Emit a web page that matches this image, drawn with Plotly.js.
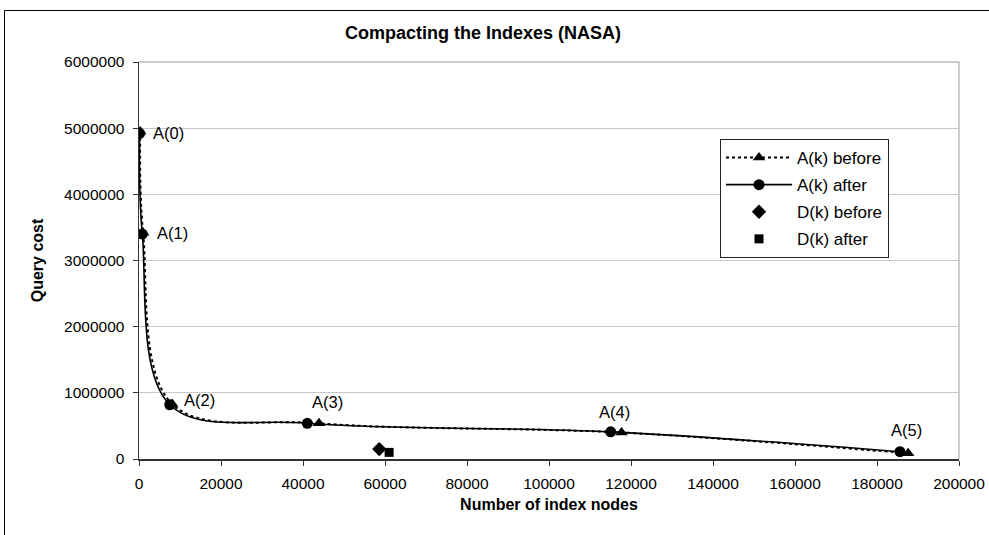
<!DOCTYPE html>
<html>
<head>
<meta charset="utf-8">
<script src="https://cdn.plot.ly/plotly-3.0.1.min.js"></script>
<style>
html,body{margin:0;padding:0;background:#fff;}
#chart{width:989px;height:535px;}
</style>
</head>
<body>
<div id="chart"></div>
<script>
// ---- data ----
const beforeX = [300, 1000, 8100, 43900, 117700, 187600];
const beforeY = [4950000, 3420000, 830000, 540000, 400000, 86000];
const afterX  = [150, 800, 7500, 41050, 115040, 185600];
const afterY  = [4920000, 3400000, 820000, 540000, 410000, 110000];
const pointLabels = ["A(0)", "A(1)", "A(2)", "A(3)", "A(4)", "A(5)"];
const dBeforeX = [58600];
const dBeforeY = [150000];
const dAfterX  = [61000];
const dAfterY  = [100000];
const seriesNames = ["A(k) before", "A(k) after", "D(k) before", "D(k) after"];
const xTicks = [0, 20000, 40000, 60000, 80000, 100000, 120000, 140000, 160000, 180000, 200000];
const yTicks = [0, 1000000, 2000000, 3000000, 4000000, 5000000, 6000000];

// label placement offsets in px (style, not data)
const labelDX = [29, 30, 30, 20, 4, 7];
const labelDY = [0, 1, 5, 21, 20, 22];

const FONT = "Liberation Sans, Arial, sans-serif";

const traces = [
  {
    x: beforeX, y: beforeY, name: seriesNames[0], legendgroup: "g1",
    mode: "lines+markers", type: "scatter",
    line: {color: "#000", width: 2, dash: "dot", shape: "spline", smoothing: 1},
    marker: {symbol: "triangle-up", size: 11, color: "#000"}
  },
  {
    x: afterX, y: afterY, name: seriesNames[1], legendgroup: "g2",
    mode: "lines+markers", type: "scatter",
    line: {color: "#000", width: 1.6, shape: "spline", smoothing: 1},
    marker: {symbol: "circle", size: 11, color: "#000"}
  },
  {
    x: dBeforeX, y: dBeforeY, name: seriesNames[2], legendgroup: "g3",
    mode: "markers", type: "scatter",
    marker: {symbol: "diamond", size: 11, color: "#000"}
  },
  {
    x: dAfterX, y: dAfterY, name: seriesNames[3], legendgroup: "g4",
    mode: "markers", type: "scatter",
    marker: {symbol: "square", size: 9, color: "#000"}
  }
];

const annotations = pointLabels.map((t, i) => ({
  x: afterX[i], y: afterY[i], xref: "x", yref: "y",
  text: t, showarrow: false, xanchor: "center", yanchor: "middle",
  xshift: labelDX[i], yshift: labelDY[i],
  font: {family: FONT, size: 16.5, color: "#000"}
}));

const L = 139, R = 959, T = 62, B = 459, W = 989, H = 535;
const pw = R - L, ph = B - T;

const layout = {
  width: W, height: H,
  margin: {l: L, r: W - R, t: T, b: H - B, pad: 0},
  paper_bgcolor: "#fff", plot_bgcolor: "#fff",
  font: {family: FONT, size: 15, color: "#000"},
  showlegend: true,
  annotations: annotations,
  title: {
    text: "<b>Compacting the Indexes (NASA)</b>",
    font: {family: FONT, size: 18, color: "#000"},
    x: 483 / W, xanchor: "center", xref: "container",
    y: 1 - 33 / H, yanchor: "middle", yref: "container"
  },
  xaxis: {
    range: [0, 200000], tickvals: xTicks, tickformat: "d",
    showgrid: false, zeroline: false,
    showline: true, linecolor: "#333", linewidth: 1.5,
    ticks: "outside", ticklen: 5, tickcolor: "#333", tickwidth: 1,
    ticklabelstandoff: 5,
    tickfont: {family: FONT, size: 15.5, color: "#000"},
    title: {text: "<b>Number of index nodes</b>", font: {family: FONT, size: 16, color: "#000"}, standoff: 7},
    automargin: false, fixedrange: true
  },
  yaxis: {
    range: [0, 6000000], tickvals: yTicks, tickformat: "d",
    showgrid: true, gridcolor: "#c8c8c8", gridwidth: 1, zeroline: false,
    showline: true, linecolor: "#333", linewidth: 1.5,
    ticks: "outside", ticklen: 5, tickcolor: "#333", tickwidth: 1,
    ticklabelstandoff: 5,
    tickfont: {family: FONT, size: 15.5, color: "#000"},
    title: {text: "<b>Query cost</b>", font: {family: FONT, size: 16, color: "#000"}, standoff: 16},
    automargin: false, fixedrange: true
  },
  legend: {
    x: (720 - L) / pw, y: (B - 139) / ph, xanchor: "left", yanchor: "top",
    bgcolor: "#fff", bordercolor: "#222", borderwidth: 1,
    font: {family: FONT, size: 17, color: "#000"},
    tracegroupgap: 2, itemwidth: 66
  },
  shapes: [
    {type: "line", xref: "paper", yref: "paper", x0: 0, x1: 1, y0: 1, y1: 1, line: {color: "#999", width: 1}, layer: "below"},
    {type: "line", xref: "paper", yref: "paper", x0: 1, x1: 1, y0: 0, y1: 1, line: {color: "#999", width: 1}, layer: "below"},
    {type: "line", xref: "paper", yref: "paper", x0: (4.5 - L) / pw, x1: (W + 5 - L) / pw, y0: (B - 10.5) / ph, y1: (B - 10.5) / ph, line: {color: "#000", width: 1}},
    {type: "line", xref: "paper", yref: "paper", x0: (4.5 - L) / pw, x1: (4.5 - L) / pw, y0: (B - 10.5) / ph, y1: (B - H - 5) / ph, line: {color: "#000", width: 1}}
  ]
};

Plotly.newPlot("chart", traces, layout, {displayModeBar: false, staticPlot: true});
</script>
</body>
</html>
